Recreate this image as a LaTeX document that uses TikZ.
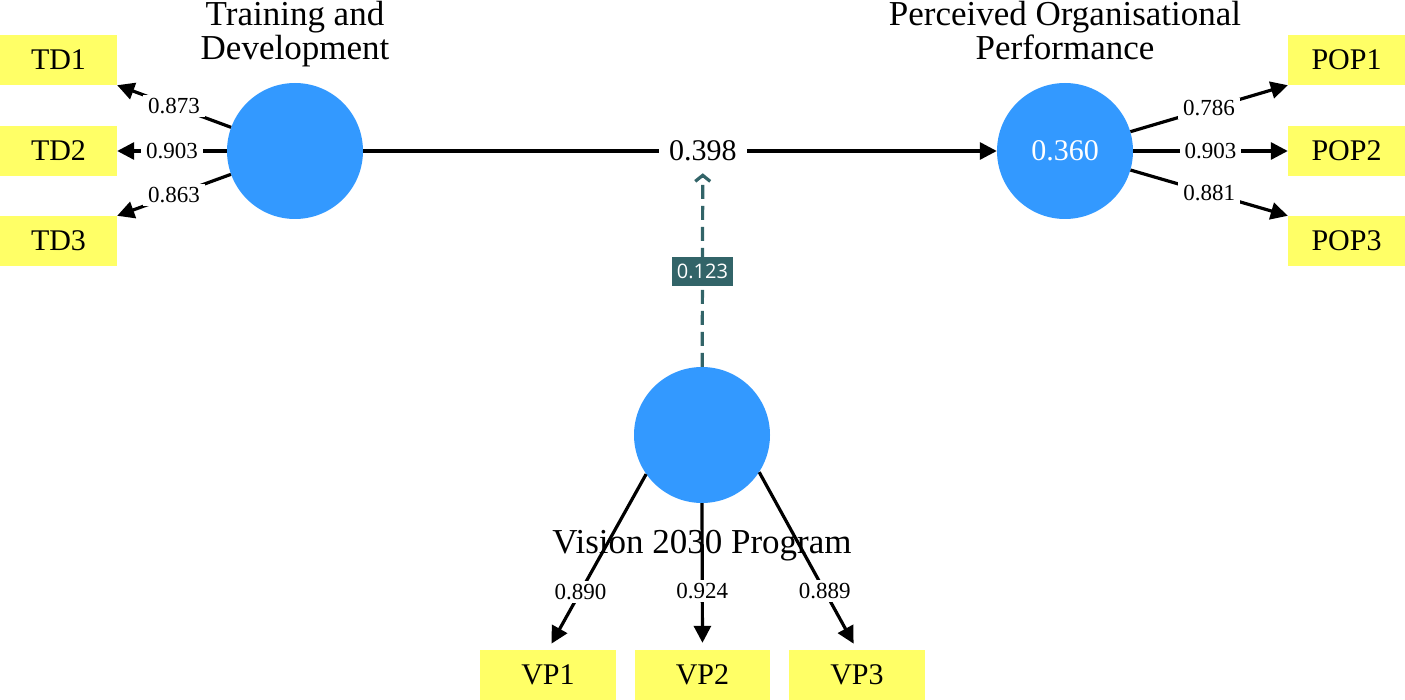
\documentclass[tikz,border=0pt]{standalone}
\usepackage{fontspec}
\setmainfont{Liberation Serif}
\newfontfamily\pathsans{Open Sans}
\usepackage{xcolor}
\usepackage{tikz}
\usetikzlibrary{arrows.meta}
\definecolor{lvblue}{RGB}{51,153,255}
\definecolor{mvyellow}{RGB}{255,255,102}
\definecolor{modteal}{RGB}{50,100,104}
\newcommand\fs[1]{\fontsize{#1}{#1}\selectfont}
\tikzstyle{lv}=[circle,fill=lvblue,minimum size=136pt,inner sep=0pt,text=white,font=\fs{30}]
\tikzstyle{mv}=[fill=mvyellow,minimum width=117pt,minimum height=50pt,inner sep=0pt,font=\fs{30}]
\tikzstyle{lvname}=[align=center,inner sep=0pt,font=\fontsize{35}{34}\selectfont]
\tikzstyle{ld}=[fill=white,inner xsep=5pt,inner ysep=3pt,font=\fs{23}]
\tikzstyle{coef}=[fill=white,inner xsep=10pt,inner ysep=2pt,font=\fs{30}]
\tikzstyle{modlbl}=[fill=modteal,text=white,minimum width=61pt,minimum height=29pt,inner sep=0pt,font=\pathsans\fs{20}]
\tikzstyle{blackhead}=[>/.tip={Triangle[length=17pt,width=17pt]}]
\tikzstyle{ar}=[line width=3.2pt,blackhead,->]
\tikzstyle{modarrow}=[line width=3.2pt,draw=modteal,dash pattern=on 14pt off 7pt,-{Straight Barb[length=6pt,width=15pt]}]

\begin{document}
\begin{tikzpicture}[x=1pt,y=-1pt]
	\useasboundingbox (0,0) rectangle (1405,700);
	\node[lv] (td)  at (295,151) {};
	\node[lv] (pop) at (1065,151) {0.360};
	\node[lv] (vp)  at (702,435) {};
	\node[lvname,anchor=north] (tdname)  at (295,1)  {Training and\\Development};
	\node[lvname,anchor=north] (popname) at (1065,1) {Perceived Organisational\\Performance};
	\node[mv] (td1) at (58.5,60)  {TD1};
	\node[mv] (td2) at (58.5,151) {TD2};
	\node[mv] (td3) at (58.5,241) {TD3};
	\node[mv] (pop1) at (1346.5,60)  {POP1};
	\node[mv] (pop2) at (1346.5,151) {POP2};
	\node[mv] (pop3) at (1346.5,241) {POP3};
	\node[mv,minimum width=136pt] (vp1) at (548,675)   {VP1};
	\node[mv,minimum width=135pt] (vp2) at (702.5,675) {VP2};
	\node[mv,minimum width=136pt] (vp3) at (857,675)   {VP3};
	\draw[ar] (td) -- node[coef,pos=.536] (coefval) {0.398} (pop);
	\draw[modarrow,shorten >=8.5pt] (vp) -- node[modlbl,pos=.47] (modval) {0.123} (coefval);
	\draw[ar] (td) -- node[ld] {0.873} (td1.south east);
	\draw[ar] (td) -- node[ld] {0.903} (td2);
	\draw[ar] (td) -- node[ld] {0.863} (td3.north east);
	\draw[ar] (pop) -- node[ld] {0.786} (pop1.south west);
	\draw[ar] (pop) -- node[ld] {0.903} (pop2);
	\draw[ar] (pop) -- node[ld] {0.881} (pop3.north west);
	\draw[ar,shorten >=7pt] (vp.215)   -- node[ld,pos=.67] {0.890} (vp1.north);
	\draw[ar,shorten >=7pt] (vp.south) -- node[ld,pos=.6]  {0.924} (vp2.north);
	\draw[ar,shorten >=7pt] (vp.327)   -- node[ld,pos=.67] {0.889} (vp3.north);
	\node[lvname,anchor=base] (vpname) at (702,553) {Vision 2030 Program};
\end{tikzpicture}
\end{document}
